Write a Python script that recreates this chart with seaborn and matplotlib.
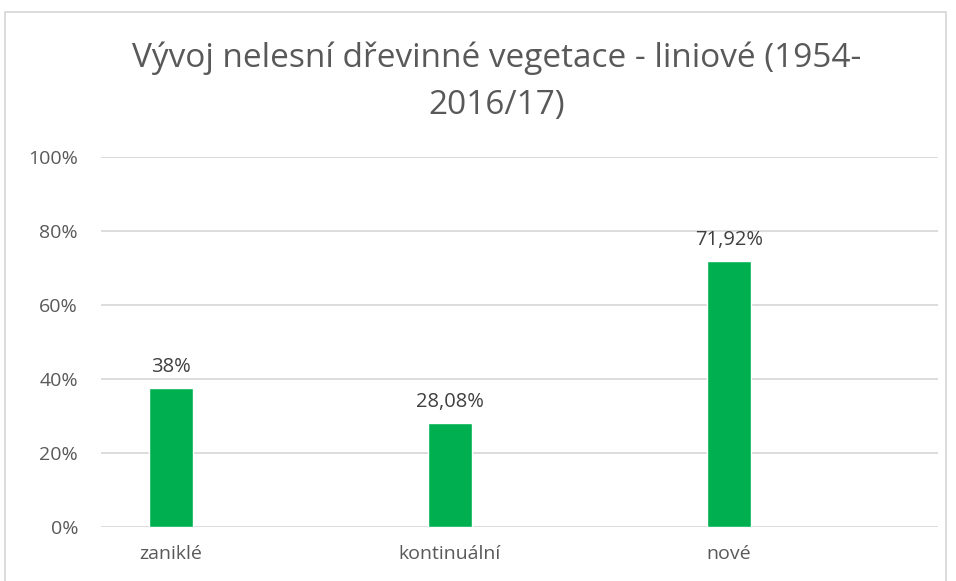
import matplotlib
matplotlib.use("Agg")
import matplotlib.pyplot as plt
import pandas as pd
import seaborn as sns
from matplotlib.patches import Rectangle

# %% data
categories = ["zaniklé", "kontinuální", "nové"]
shares = [37.6, 28.08, 71.92]
value_labels = ["38%", "28,08%", "71,92%"]
yticks = [0, 20, 40, 60, 80, 100]
ytick_labels = ["0%", "20%", "40%", "60%", "80%", "100%"]

df = pd.DataFrame({"Kategorie": categories, "Podíl": shares})

# %% style
sns.set_theme(style="white")
plt.rcParams["font.family"] = ["Open Sans", "DejaVu Sans"]
text_color = "#595959"
grid_color = "#d9d9d9"
green = "#00b050"

W, H = 956, 581
fig = plt.figure(figsize=(W / 100, H / 100), dpi=100)
ax = fig.add_axes([101 / W, 1 - 527 / H, (938 - 101) / W, (527 - 157) / H])

sns.barplot(data=df, x="Kategorie", y="Podíl", color=green, width=0.158,
            saturation=1, ax=ax)

# bars sit left of the category centres, like in the original chart
ax.set_xlim(-0.251, 2.749)
ax.set_ylim(0, 100)
ax.set_yticks(yticks)
ax.set_yticklabels(ytick_labels)
ax.yaxis.grid(True, color=grid_color, linewidth=1.3)
ax.set_axisbelow(True)
for s in ax.spines.values():
    s.set_visible(False)
ax.set_xlabel("")
ax.set_ylabel("")
ax.tick_params(axis="y", length=0, pad=16.5, labelsize=14, labelcolor=text_color)
ax.tick_params(axis="x", length=0, pad=13, labelsize=14, labelcolor=text_color)

for bar, lab in zip(ax.patches, value_labels):
    ax.annotate(lab, (bar.get_x() + bar.get_width() / 2, bar.get_height()),
                xytext=(0, 8), textcoords="offset points",
                ha="center", va="bottom", fontsize=14.5, color="#404040")

title_x = 497 / W
fig.text(title_x, 1 - 67 / H, "Vývoj nelesní dřevinné vegetace - liniové (1954-",
         ha="center", va="baseline", fontsize=24, color=text_color)
fig.text(title_x, 1 - 114 / H, "2016/17)",
         ha="center", va="baseline", fontsize=24, color=text_color)

# chart area frame
fig.patches.append(Rectangle((4.5 / W, -0.1), (946 - 4.5) / W, 1.1 - 12.5 / H,
                             transform=fig.transFigure, fill=False,
                             edgecolor=grid_color, linewidth=1.3))

fig.savefig("out.png", dpi=100, facecolor="white")
